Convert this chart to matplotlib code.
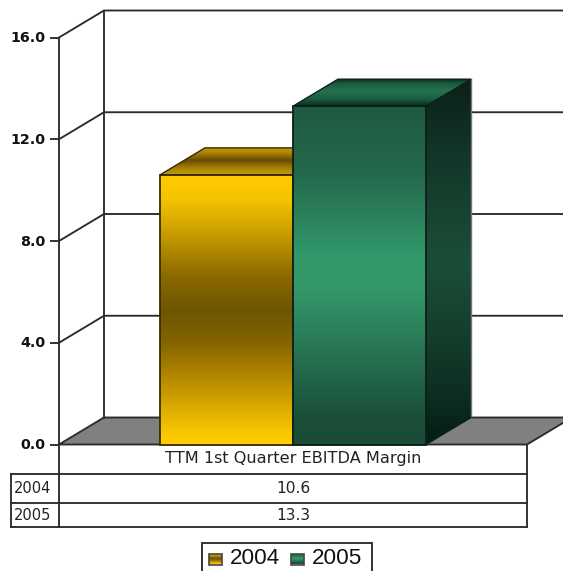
import numpy as np
import matplotlib
matplotlib.use("Agg")
import matplotlib.pyplot as plt
from matplotlib.colors import LinearSegmentedColormap
from matplotlib.patches import Polygon, Rectangle
from matplotlib.transforms import ScaledTranslation

# Chart content
category = "TTM 1st Quarter EBITDA Margin"
series_names = ["2004", "2005"]
series_values = [10.6, 13.3]
y_ticks = [0.0, 4.0, 8.0, 12.0, 16.0]

# Shading stops (position along the height of a face, colour)
GOLD_FRONT = [(0, "#ffcc00"), (.09, "#f5c300"), (.24, "#bf9500"), (.38, "#8a6800"), (.5, "#6e5500"),
              (.62, "#856400"), (.74, "#b08500"), (.88, "#e0b000"), (.96, "#f8c800"), (1, "#ffcc00")]
GOLD_TOP = [(0, "#c49a00"), (.15, "#b08a08"), (.45, "#664a00"), (.75, "#a88204"), (1, "#c49c00")]
GOLD_SIDE = [(0, "#6e5500"), (.5, "#8a6800"), (1, "#6e5500")]
GREEN_FRONT = [(0, "#1f5a42"), (.2, "#24694c"), (.45, "#329a6c"), (.55, "#329668"), (.75, "#266f50"),
               (.92, "#1a4f3a"), (1, "#1a4c38")]
GREEN_TOP = [(0, "#0a2a1c"), (.15, "#1a5a3c"), (.45, "#24724e"), (.75, "#1a5a40"), (1, "#0a2a1e")]
GREEN_SIDE = [(0, "#0c2018"), (.2, "#123628"), (.5, "#1b4e38"), (.7, "#153e2c"), (.9, "#0a2a1e"), (1, "#061a12")]
SHADES = [(GOLD_FRONT, GOLD_TOP, GOLD_SIDE), (GREEN_FRONT, GREEN_TOP, GREEN_SIDE)]

LINE = "#2b2b2b"
LW = 1.35
DPI = 100
W, H = 563, 571

fig = plt.figure(figsize=(W / DPI, H / DPI), dpi=DPI, facecolor="white")
ax = fig.add_axes([59 / W, 1 - 444.5 / H, 468 / W, 407 / H])
ax.patch.set_alpha(0)
for s in ax.spines.values():
    s.set_visible(False)
XMIN, XMAX, YMIN, YMAX = 0.0, 1.0, 0.0, 16.0

# Oblique depth of the box, in data units
DX = 45 / 468
DY = 27 * 16 / 407
BAR_W = 133 / 468
GROUP_C = 0.5


def gradient_face(axes, verts, stops, y0, y1, z):
    """Fill a polygon with a vertical colour ramp running from y1 (stop 0) down to y0 (stop 1)."""
    cmap = LinearSegmentedColormap.from_list("face", stops)
    grad = np.linspace(0, 1, 256).reshape(-1, 1)
    xs = [v[0] for v in verts]
    im = axes.imshow(grad, cmap=cmap, aspect="auto", origin="upper", interpolation="bilinear",
                     extent=(min(xs), max(xs), y0, y1), zorder=z)
    poly = Polygon(verts, closed=True, transform=axes.transData, facecolor="none")
    im.set_clip_path(poly)


# Floor
ax.add_patch(Polygon([(XMIN, 0), (XMIN + DX, DY), (XMAX + DX, DY), (XMAX, 0)], closed=True,
                     facecolor="#808080", edgecolor=LINE, lw=LW, zorder=1, clip_on=False))

# Back wall and gridlines
for v in y_ticks[1:]:
    ax.plot([XMIN, XMIN + DX, XMAX + DX], [v, v + DY, v + DY], color=LINE, lw=LW, zorder=1, clip_on=False)
ax.plot([XMIN + DX, XMIN + DX], [DY, YMAX + DY], color=LINE, lw=LW, zorder=1, clip_on=False)

# Bars as three shaded faces, the later bar covering the earlier one
for i, (val, shades) in enumerate(zip(series_values, SHADES)):
    base = 3 + i * 4
    x0 = GROUP_C + (i - 1) * BAR_W
    x1 = x0 + BAR_W
    front, top, side = shades
    gradient_face(ax, [(x1, 0), (x1 + DX, DY), (x1 + DX, val + DY), (x1, val)], side, 0, val + DY, base)
    gradient_face(ax, [(x0, val), (x0 + DX, val + DY), (x1 + DX, val + DY), (x1, val)], top, val, val + DY, base)
    gradient_face(ax, [(x0, 0), (x1, 0), (x1, val), (x0, val)], front, 0, val, base + 1)
    edge = "#3a2c00" if i == 0 else "#0a2018"
    ax.plot([x1 + DX, x1 + DX], [DY, val + DY], color="#777777", lw=1.0, zorder=base + 2, clip_on=False)
    ax.plot([x1, x1 + DX], [0, DY], color=edge, lw=1.0, zorder=base + 2, clip_on=False)
    ax.add_patch(Polygon([(x0, val), (x0 + DX, val + DY), (x1 + DX, val + DY), (x1, val)], closed=True,
                         fill=False, edgecolor=edge, lw=1.0, zorder=base + 2, clip_on=False))
    ax.add_patch(Polygon([(x0, 0), (x1, 0), (x1, val), (x0, val)], closed=True, fill=False,
                         edgecolor=edge, lw=1.3, zorder=base + 2, clip_on=False))

ax.set_xlim(XMIN, XMAX)
ax.set_ylim(YMIN, YMAX)
ax.set_xticks([])
ax.set_yticks(y_ticks)
ax.set_yticklabels([f"{v:.1f}" for v in y_ticks], fontsize=10.3, fontweight="bold",
                   family="DejaVu Sans", color="#111111")
ax.tick_params(axis="y", length=6.5, width=LW, color=LINE, pad=3)
lift = ScaledTranslation(0, 1 / DPI, fig.dpi_scale_trans)
for lab in ax.get_yticklabels():
    lab.set_transform(lab.get_transform() + lift)

# Data table and legend share a figure-wide pixel overlay
ov = fig.add_axes([0, 0, 1, 1])
ov.axis("off")
ov.patch.set_alpha(0)

TBL_L, TBL_A, TBL_R = 11, 59, 527
ROWS = [444.5, 473.5, 502.5, 526.5]
ov.plot([TBL_A, TBL_A], [37.5, ROWS[-1]], color=LINE, lw=LW)
ov.plot([TBL_R, TBL_R], [ROWS[0], ROWS[-1]], color=LINE, lw=LW)
ov.plot([TBL_L, TBL_L], [ROWS[1], ROWS[-1]], color=LINE, lw=LW)
for r in ROWS[1:]:
    ov.plot([TBL_L, TBL_R], [r, r], color=LINE, lw=LW)
TXT = dict(family="DejaVu Sans", color="#222222", va="center")
ov.text((TBL_A + TBL_R) / 2, 458.5, category, ha="center", fontsize=11.6, **TXT)
for k, (name, val) in enumerate(zip(series_names, series_values)):
    yc = (ROWS[k + 1] + ROWS[k + 2]) / 2 + 0.5
    ov.text(33, yc, name, ha="center", fontsize=10.5, **TXT)
    ov.text((TBL_A + TBL_R) / 2, yc, f"{val:.1f}", ha="center", fontsize=11.2, **TXT)

# Legend frame runs off the lower edge of the figure
ov.add_patch(Rectangle((201.5, 543), 170, 40, facecolor="white", edgecolor=LINE, lw=LW))
swatches = [(209, 230), (291, 312)]
for (sx, tx), name, shades in zip(swatches, series_names, SHADES):
    gradient_face(ov, [(sx, 553.5), (sx + 13, 553.5), (sx + 13, 564.5), (sx, 564.5)], shades[0], 564.5, 553.5, 3)
    ov.add_patch(Rectangle((sx, 553.5), 13, 11, fill=False, edgecolor="#444444", lw=1.2, zorder=4))
    ov.text(tx, 558, name, ha="left", va="center", family="Liberation Sans", fontsize=16.2, color="#111111")

ov.set_xlim(0, W)
ov.set_ylim(H, 0)

fig.savefig("out.png", dpi=DPI, facecolor="white")
